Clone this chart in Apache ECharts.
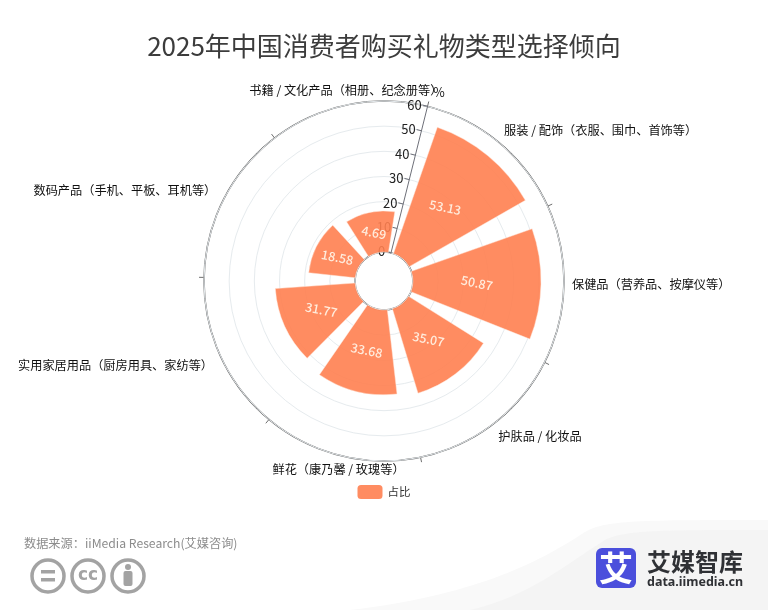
<!DOCTYPE html>
<html><head><meta charset="utf-8">
<style>html,body{margin:0;padding:0;background:#fff}#c{width:768px;height:610px}</style>
<script src="https://cdn.jsdelivr.net/npm/echarts@6/dist/echarts.min.js"></script>
</head><body><div id="c"></div>
<script>
const titleText = '2025年中国消费者购买礼物类型选择倾向';
const sourceText = '数据来源：iiMedia Research(艾媒咨询)';
const seriesName = '占比';
const categories = ['服装 / 配饰（衣服、围巾、首饰等）','保健品（营养品、按摩仪等）','护肤品 / 化妆品','鲜花（康乃馨 / 玫瑰等）','实用家居用品（厨房用具、家纺等）','数码产品（手机、平板、耳机等）','书籍 / 文化产品（相册、纪念册等）'];
// bar lengths as drawn in the picture
const barValues = [53.13,50.87,35.07,33.68,31.77,18.58,16.3];
// values as printed on the bars
const printedValues = ['53.13','50.87','35.07','33.68','31.77','18.58','4.69'];
const font = '"Noto Sans CJK SC","Noto Sans",sans-serif';
const gray = '#a3a3a3';
echarts.graphic.registerShape('waveA', echarts.graphic.extendPath('M350 610 C470 596 535 565 585 532 C605 520 640 520 768 520 L768 610 Z', {}));
echarts.graphic.registerShape('waveB', echarts.graphic.extendPath('M470 610 C530 596 565 565 605 540 C625 530 660 530 768 530 L768 610 Z', {}));
const chart = echarts.init(document.getElementById('c'), null, {renderer:'canvas'});
chart.setOption({
  animation:false,
  backgroundColor:'#fff',
  textStyle:{fontFamily:font},
  title:{text:titleText,left:'center',top:28,textStyle:{fontSize:26,fontWeight:'normal',color:'#3c3c3c',fontFamily:font}},
  legend:{data:[seriesName],left:'center',top:480,itemWidth:25,itemHeight:14,itemGap:6,itemStyle:{borderWidth:0},textStyle:{fontSize:11.5,color:'#333',fontFamily:font}},
  polar:{center:[384,281],radius:[29,180]},
  angleAxis:{type:'category',data:categories,startAngle:76,boundaryGap:true,
    axisLine:{show:false},
    axisTick:{show:true,length:5,lineStyle:{color:'#6e6e6e'}},
    axisLabel:{show:true,interval:0,margin:8,fontSize:12.2,color:'#111',fontFamily:font},
    splitLine:{show:false}},
  radiusAxis:{type:'value',min:0,max:60,interval:10,name:'%',nameGap:15,
    nameTextStyle:{fontSize:12.5,color:'#111',padding:[0,0,0,2],fontFamily:font},
    axisLine:{show:true,lineStyle:{color:'#6e7079',width:1}},
    axisTick:{show:true,length:5,lineStyle:{color:'#6e7079'}},
    axisLabel:{fontSize:13,color:'#222',margin:6,fontFamily:font},
    splitLine:{show:true,lineStyle:{color:'#e6ebee',width:1}},
    z:1},
  series:[{name:seriesName,type:'bar',coordinateSystem:'polar',barCategoryGap:'20%',
    data:barValues,
    itemStyle:{color:'#ff7f50',opacity:0.9,borderColor:'#ffe9dd',borderWidth:0.5},
    // for polar bars a numeric label rotation is read in radians
    label:{show:true,position:'middle',rotate:-0.2,fontSize:12.5,fontWeight:500,color:'#fff6ea',fontFamily:font,
      formatter:p=>printedValues[p.dataIndex]}}],
  graphic:[
    {type:'waveA',z:-2,silent:true,style:{fill:'#f9f9f9'}},
    {type:'waveB',z:-1,silent:true,style:{fill:'#f4f4f4'}},
    // the angle axis's outer and inner circle lines
    {type:'circle',silent:true,shape:{cx:384,cy:281,r:180},style:{fill:'none',stroke:'#5f5f5f',lineWidth:1.5}},
    {type:'circle',silent:true,shape:{cx:384,cy:281,r:29},style:{fill:'none',stroke:'#5f5f5f',lineWidth:1.5}},
    {type:'text',style:{x:24,y:537,text:sourceText,fontSize:12.2,fill:'#8c8c8c',fontFamily:font}},
    {type:'circle',shape:{cx:48,cy:576,r:16},style:{fill:'#fff',stroke:gray,lineWidth:3.5}},
    {type:'rect',shape:{x:41,y:570,width:14,height:3.5},style:{fill:gray}},
    {type:'rect',shape:{x:41,y:578,width:14,height:3.5},style:{fill:gray}},
    {type:'circle',shape:{cx:88,cy:576,r:16},style:{fill:'#fff',stroke:gray,lineWidth:3.5}},
    {type:'text',style:{x:88,y:576,text:'cc',align:'center',verticalAlign:'middle',fontSize:17,fontWeight:'bold',fill:gray,fontFamily:'"DejaVu Sans"'}},
    {type:'circle',shape:{cx:128,cy:576,r:16},style:{fill:'#fff',stroke:gray,lineWidth:3.5}},
    {type:'circle',shape:{cx:128,cy:567,r:3},style:{fill:gray}},
    {type:'rect',shape:{x:123.5,y:571,width:9,height:15,r:2},style:{fill:gray}},
    {type:'rect',shape:{x:596,y:548,width:40,height:40,r:6},style:{fill:'#4b4fdc'}},
    {type:'text',style:{x:616,y:568,text:'艾',align:'center',verticalAlign:'middle',fontSize:34,fontWeight:'bold',fill:'#fff',fontFamily:font}},
    {type:'text',style:{x:647,y:562,text:'艾媒智库',verticalAlign:'middle',fontSize:24,fontWeight:'bold',fill:'#2f3135',fontFamily:font}},
    {type:'text',style:{x:647,y:582,text:'data.iimedia.cn',verticalAlign:'middle',fontSize:12.5,fontWeight:'bold',fill:'#2f3135',fontFamily:'"Noto Sans"'}}
  ]
});
</script></body></html>
